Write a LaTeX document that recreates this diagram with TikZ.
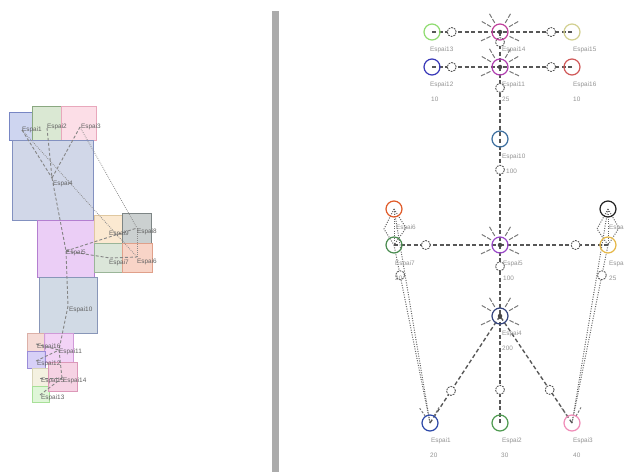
\documentclass[tikz,border=0pt]{standalone}
\usepackage{fontspec}
\setmainfont{Liberation Sans}
\begin{document}
\begin{tikzpicture}[x=1pt,y=-1pt,
  lbl/.style={font=\fontsize{6.4}{7}\selectfont, text=black!42, anchor=west, inner sep=0pt},
  plbl/.style={font=\fontsize{6.4}{7}\selectfont, text=black!62, anchor=west, inner sep=0pt},
  circ/.style={circle, line width=1.2pt, minimum size=16pt, inner sep=0pt},
  edge/.style={draw=black!66, line width=1.35pt, dash pattern=on 4pt off 2.5pt},
  dotedge/.style={draw=black!60, line width=1pt, dash pattern=on 1pt off 1.4pt},
  waypt/.style={circle, draw=black!68, fill=white, line width=0.85pt, dash pattern=on 1.8pt off 1pt, minimum size=9pt, inner sep=0pt},
  ray/.style={draw=black!52, line width=1pt, dash pattern=on 4.5pt off 1.5pt},
  hub/.style={circle, fill=black!72, minimum size=4.5pt, inner sep=0pt},
  pline/.style={draw=black!48, line width=0.9pt, dash pattern=on 3pt off 2pt},
  pdot/.style={draw=black!45, line width=0.8pt, dash pattern=on 0.8pt off 1.2pt},
  roomst/.style={line width=0.8pt, fill opacity=0.9}
]
\clip (0,0) rectangle (624,472);
\fill[white] (0,0) rectangle (624,472);

% ---------- room colours ----------
\definecolor{f1}{HTML}{C9D1EF}\definecolor{d1}{HTML}{7886C4}
\definecolor{f2}{HTML}{D7E6CF}\definecolor{d2}{HTML}{8AA880}
\definecolor{f3}{HTML}{FCDBE5}\definecolor{d3}{HTML}{E8A8BC}
\definecolor{f4}{HTML}{CDD3E6}\definecolor{d4}{HTML}{8391C0}
\definecolor{f5}{HTML}{E9C9F6}\definecolor{d5}{HTML}{B47FD0}
\definecolor{f9}{HTML}{FBE7CD}\definecolor{d9}{HTML}{E0C8A0}
\definecolor{f8}{HTML}{C6CBCB}\definecolor{d8}{HTML}{7D8585}
\definecolor{f7}{HTML}{D8E4D5}\definecolor{d7}{HTML}{9AB598}
\definecolor{f6}{HTML}{F8D0C2}\definecolor{d6}{HTML}{E0A08A}
\definecolor{f10}{HTML}{CDD7E3}\definecolor{d10}{HTML}{8896B8}
\definecolor{f16}{HTML}{F4D8D2}\definecolor{d16}{HTML}{DCB0A8}
\definecolor{f11}{HTML}{F1CFF6}\definecolor{d11}{HTML}{D09AD8}
\definecolor{f12}{HTML}{D3CBF7}\definecolor{d12}{HTML}{9A8CD8}
\definecolor{f15}{HTML}{F3F0DE}\definecolor{d15}{HTML}{D8D4B8}
\definecolor{f13}{HTML}{DCF6D4}\definecolor{d13}{HTML}{A8E098}
\definecolor{f14}{HTML}{F6CFE2}\definecolor{d14}{HTML}{DC98B8}

% ---------- floor plan (left) ----------
\newcommand{\roombox}[5]{\filldraw[roomst, fill=f#5, draw=d#5] (#1,#2) rectangle (#3,#4);}
\roombox{9}{112}{32}{140}{1}
\roombox{32}{106}{61}{140}{2}
\roombox{61}{106}{96}{140}{3}
\roombox{12}{140}{93}{220}{4}
\roombox{37}{220}{94}{277}{5}
\roombox{94}{215}{122}{243}{9}
\roombox{122}{213}{151}{243}{8}
\roombox{94}{243}{122}{272}{7}
\roombox{122}{243}{152}{272}{6}
\roombox{39}{277}{97}{333}{10}
\roombox{27}{333}{45}{351}{16}
\roombox{44}{333}{73}{362}{11}
\roombox{27}{351}{45}{368}{12}
\roombox{32}{368}{49}{386}{15}
\roombox{32}{386}{49}{402}{13}
\roombox{48}{362}{77}{391}{14}

% anchor points of the rooms
\coordinate (p1) at (22,130);
\coordinate (p2) at (47,128);
\coordinate (p3) at (80,127);
\coordinate (p4) at (52,178);
\coordinate (p5) at (66,251);
\coordinate (p8) at (137,228);
\coordinate (p7) at (110,258);
\coordinate (p6) at (137,257);
\coordinate (p10) at (68,306);
\coordinate (p16) at (36,344);
\coordinate (p11) at (59,350);
\coordinate (p12) at (36,361);
\coordinate (p15) at (40,378);
\coordinate (p14) at (62,378);
\coordinate (p13) at (40,395);

\draw[pline] (p1) -- (p4);
\draw[pline] (p2) -- (p4);
\draw[pline] (p3) -- (p4);
\draw[pline] (p4) -- (p5);
\draw[pline] (p5) -- (p8);
\draw[pline] (p5) -- (p7);
\draw[pline] (p7) -- (p6);
\draw[pline] (p5) -- (p10);
\draw[pline] (p10) -- (p11);
\draw[pline] (p16) -- (p11);
\draw[pline] (p12) -- (p11);
\draw[pline] (p11) -- (p14);
\draw[pline] (p15) -- (p14);
\draw[pline] (p13) -- (p14);
\draw[pdot] (p1) -- (p6);
\draw[pdot] (p3) -- (p8);
\draw[pdot] (p8) -- (p6);

\node[plbl] (t1) at (22,130) {Espai1};
\node[plbl] (t2) at (47,127) {Espai2};
\node[plbl] (t3) at (81,127) {Espai3};
\node[plbl] (t4) at (53,184) {Espai4};
\node[plbl] (t9) at (109,234) {Espai9};
\node[plbl] (t8) at (137,232) {Espai8};
\node[plbl] (t5) at (66,253) {Espai5};
\node[plbl] (t7) at (109,263) {Espai7};
\node[plbl] (t6) at (137,262) {Espai6};
\node[plbl] (t10) at (69,310) {Espai10};
\node[plbl] (t16) at (37,347) {Espai16};
\node[plbl] (t11) at (59,352) {Espai11};
\node[plbl] (t12) at (37,364) {Espai12};
\node[plbl] (t15) at (41,381) {Espai15};
\node[plbl] (t14) at (63,381) {Espai14};
\node[plbl] (t13) at (41,398) {Espai13};

% ---------- divider ----------
\fill[black!33] (272,11) rectangle (279,472);

% ---------- graph (right) ----------
\definecolor{c1}{RGB}{44,72,168}
\definecolor{c2}{RGB}{78,154,80}
\definecolor{c3}{RGB}{240,140,184}
\definecolor{c4}{RGB}{52,68,126}
\definecolor{c5}{RGB}{154,72,200}
\definecolor{c6}{RGB}{224,90,40}
\definecolor{c7}{RGB}{74,140,80}
\definecolor{c8}{RGB}{34,34,34}
\definecolor{c9}{RGB}{230,184,72}
\definecolor{c10}{RGB}{60,110,158}
\definecolor{c11}{RGB}{176,64,176}
\definecolor{c12}{RGB}{56,56,184}
\definecolor{c13}{RGB}{143,220,112}
\definecolor{c14}{RGB}{192,64,156}
\definecolor{c15}{RGB}{210,208,144}
\definecolor{c16}{RGB}{208,88,88}

\coordinate (r13) at (432,32);
\coordinate (r14) at (500,32);
\coordinate (r15) at (572,32);
\coordinate (r12) at (432,67);
\coordinate (r11) at (500,67);
\coordinate (r16) at (572,67);
\coordinate (r10) at (500,139);
\coordinate (r6) at (394,209);
\coordinate (r7) at (394,245);
\coordinate (r5) at (500,245);
\coordinate (r8) at (608,209);
\coordinate (r9) at (608,245);
\coordinate (r4) at (500,316);
\coordinate (r1) at (430,423);
\coordinate (r2) at (500,423);
\coordinate (r3) at (572,423);

% dotted links
\draw[dotedge] (r6) -- (r1);
\draw[dotedge] (r7) -- node[waypt, pos=0.17] (w71) {} (r1);
\draw[dotedge] (r8) -- (r3);
\draw[dotedge] (r9) -- node[waypt, pos=0.17] (w93) {} (r3);
\draw[dotedge] (r6) -- (384,229) -- (r7);
\draw[dotedge] (r6) -- (406,228) -- (r7);
\draw[dotedge] (r6) -- (r7);
\draw[dotedge] (r8) -- (597,229) -- (r9);
\draw[dotedge] (r8) -- (619,228) -- (r9);
\draw[dotedge] (r8) -- (r9);

% dashed links
\draw[edge] (r13) -- node[waypt, pos=0.29] (w1314) {} (r14);
\draw[edge] (r15) -- node[waypt, pos=0.29] (w1514) {} (r14);
\draw[edge] (r12) -- node[waypt, pos=0.29] (w1211) {} (r11);
\draw[edge] (r16) -- node[waypt, pos=0.29] (w1611) {} (r11);
\draw[edge] (r14) -- node[waypt, pos=0.29] (w1411) {} (r11);
\draw[edge] (r11) -- node[waypt, pos=0.29] (w1110) {} (r10);
\draw[edge] (r10) -- node[waypt, pos=0.29] (w105) {} (r5);
\draw[edge] (r7) -- node[waypt, pos=0.30] (w75) {} (r5);
\draw[edge] (r9) -- node[waypt, pos=0.30] (w95) {} (r5);
\draw[edge] (r5) -- node[waypt, pos=0.30] (w54) {} (r4);
\draw[edge] (r1) -- node[waypt, pos=0.30] (w14) {} (r4);
\draw[edge] (r2) -- node[waypt, pos=0.31] (w24) {} (r4);
\draw[edge] (r3) -- node[waypt, pos=0.31] (w34) {} (r4);

% radiating strokes around the hubs
\foreach \h in {r14,r11,r5,r4}{
  \foreach \a in {30,60,120,150,205,335}{
    \draw[ray] (\h) ++(\a:10.5pt) -- ++(\a:11pt);
  }
}
\foreach \a in {60,125}{
  \draw[ray, dash pattern=on 2.5pt off 1.5pt] (r1) ++(\a:8pt) -- ++(\a:10pt);
  \draw[ray, dash pattern=on 2.5pt off 1.5pt] (r3) ++(\a:8pt) -- ++(\a:10pt);
}

% nodes
\foreach \n in {1,...,16}{
  \node[circ, draw=c\n] (n\n) at (r\n) {};
}
\foreach \h in {r14,r11,r5,r4}{
  \node[hub] at (\h) {};
}

% labels
\node[lbl] (l13) at (430,50) {Espai13};
\node[lbl] (l14) at (502,50) {Espai14};
\node[lbl] (l15) at (573,50) {Espai15};
\node[lbl] (l12) at (430,85) {Espai12};
\node[lbl] (v12) at (431,99) {10};
\node[lbl] (l11) at (502,85) {Espai11};
\node[lbl] (v11) at (502,99) {25};
\node[lbl] (l16) at (573,85) {Espai16};
\node[lbl] (v16) at (573,99) {10};
\node[lbl] (l10) at (502,157) {Espai10};
\node[lbl] (v10) at (506,171) {100};
\node[lbl] (l6) at (396,228) {Espai6};
\node[lbl] (l7) at (395,264) {Espai7};
\node[lbl] (v7) at (395,278) {20};
\node[lbl] (l5) at (503,264) {Espai5};
\node[lbl] (v5) at (503,278) {100};
\node[lbl] (l8) at (609,228) {Espai8};
\node[lbl] (l9) at (609,264) {Espai9};
\node[lbl] (v9) at (609,278) {25};
\node[lbl] (l4) at (502,334) {Espai4};
\node[lbl] (v4) at (502,348) {200};
\node[lbl] (l1) at (431,441) {Espai1};
\node[lbl] (v1) at (430,455) {20};
\node[lbl] (l2) at (502,441) {Espai2};
\node[lbl] (v2) at (501,455) {30};
\node[lbl] (l3) at (573,441) {Espai3};
\node[lbl] (v3) at (573,455) {40};
\end{tikzpicture}
\end{document}
